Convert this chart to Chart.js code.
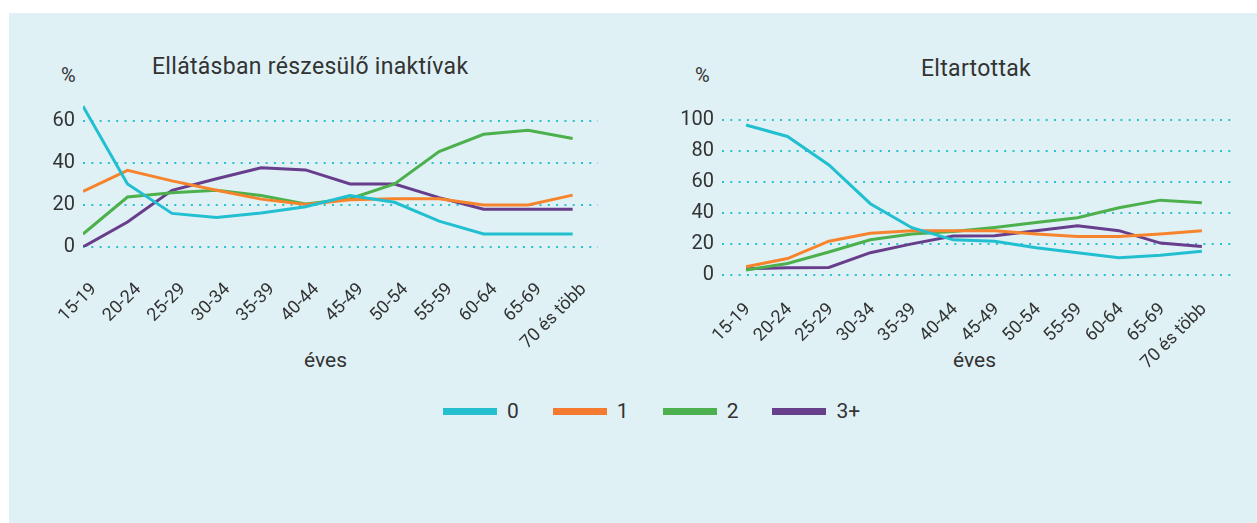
<!DOCTYPE html>
<html lang="hu">
<head>
<meta charset="UTF-8">
<title>Ellátásban részesülő inaktívak / Eltartottak</title>
<script src="https://cdn.jsdelivr.net/npm/chart.js@4.4.0/dist/chart.umd.min.js"></script>
<style>
    body {
        margin: 0;
        width: 1257px;
        height: 523px;
        background: #ffffff;
        font-family: Roboto, 'Noto Sans', sans-serif;
        color: #333;
        position: relative;
        overflow: hidden;
    }
    .panel {
        position: absolute;
        left: 9px;
        top: 13px;
        right: 0;
        bottom: 0;
        background: #dff1f5;
    }
    .txt {
        position: absolute;
        white-space: nowrap;
        color: #333;
    }
    .title { font-size: 23px; letter-spacing: 0.3px; }
    .unit { font-size: 20px; }
    .axis { font-size: 21px; }
    canvas { position: absolute; }
    .legend {
        position: absolute;
        top: 399px;
        left: 443px;
        display: flex;
        align-items: center;
        font-size: 21px;
    }
    .legend span.sw {
        display: inline-block;
        width: 54px;
        height: 7px;
        margin-right: 10px;
    }
    .legend span.lb {
        margin-right: 34px;
    }
</style>
</head>
<body>
<div class="panel"></div>

<div class="txt title" style="left:152px; top:53px;">Ellátásban részesülő inaktívak</div>
<div class="txt title" style="left:921px; top:55px;">Eltartottak</div>
<div class="txt unit" style="left:61px; top:63px;">%</div>
<div class="txt unit" style="left:695px; top:63px;">%</div>
<div class="txt axis" style="left:304px; top:348px;">éves</div>
<div class="txt axis" style="left:953px; top:348px;">éves</div>

<div class="legend">
    <span class="sw" style="background:#26bfcf"></span><span class="lb">0</span>
    <span class="sw" style="background:#f47a2f"></span><span class="lb">1</span>
    <span class="sw" style="background:#4cb04f"></span><span class="lb">2</span>
    <span class="sw" style="background:#683f8a"></span><span class="lb" style="margin-right:0">3+</span>
</div>

<canvas id="left" width="640" height="320" style="left:0; top:80px;"></canvas>
<canvas id="right" width="617" height="320" style="left:640px; top:80px;"></canvas>

<script>
    // korcsoportok
    const ageGroups = ['15-19', '20-24', '25-29', '30-34', '35-39', '40-44', '45-49',
                       '50-54', '55-59', '60-64', '65-69', '70 és több'];
    const seriesNames = ['0', '1', '2', '3+'];
    const seriesColors = ['#22bfd0', '#f7842c', '#4cb04c', '#673d8c'];

    // Ellátásban részesülő inaktívak (%)
    const inactive0 = [67, 30, 16, 14, 16.2, 19.2, 24.5, 21.3, 12.3, 6.2, 6.2, 6.2];
    const inactive1 = [26.5, 36.5, 31.5, 27, 22.8, 20.3, 22.5, 23, 23, 20, 20, 24.7];
    const inactive2 = [6.2, 23.8, 25.8, 27, 24.5, 20.5, 23, 30, 45.4, 53.7, 55.6, 51.7];
    const inactive3 = [0, 11.9, 27, 32.5, 37.7, 36.7, 30, 30, 23.5, 18, 18, 18];
    const inactiveTicks = [0, 20, 40, 60];

    // Eltartottak (%)
    const dependent0 = [96.8, 89.4, 71, 46, 30.5, 22.7, 21.8, 17.6, 14.4, 11.2, 12.7, 15.3];
    const dependent1 = [5.3, 10.6, 21.8, 26.9, 28.6, 28.6, 28.6, 26.5, 24.8, 24.8, 26.5, 28.6];
    const dependent2 = [3.2, 7.4, 14.8, 22.7, 26.5, 28, 30.7, 33.9, 37, 43.4, 48.3, 46.6];
    const dependent3 = [4, 4.7, 4.9, 14.4, 20.1, 25.2, 25.4, 28.6, 31.8, 28.6, 20.6, 18.4];
    const dependentTicks = [0, 20, 40, 60, 80, 100];

    const gridColor = '#2ec0d2';
    const font = { family: 'Roboto, "Noto Sans", sans-serif' };

    function makeDatasets(list) {
        return list.map((vals, i) => ({
            label: seriesNames[i],
            data: vals.map((v, k) => ({ x: k, y: v })),
            borderColor: seriesColors[i],
            backgroundColor: seriesColors[i],
            borderWidth: 3,
            pointRadius: 0,
            tension: 0,
            fill: false
        }));
    }

    function makeChart(id, datasets, opt) {
        return new Chart(document.getElementById(id), {
            type: 'line',
            data: { datasets: datasets },
            options: {
                responsive: false,
                animation: false,
                layout: { padding: opt.padding },
                plugins: { legend: { display: false }, tooltip: { enabled: false } },
                scales: {
                    x: {
                        type: 'linear',
                        min: opt.xMin,
                        max: opt.xMax,
                        grid: { display: false },
                        border: { display: false },
                        afterBuildTicks: s => {
                            s.ticks = ageGroups.map((_, k) => ({ value: k }));
                        },
                        afterFit: s => { s.height = opt.xHeight; },
                        ticks: {
                            autoSkip: false,
                            minRotation: 45,
                            maxRotation: 45,
                            padding: opt.xPad,
                            labelOffset: opt.xShift,
                            color: '#333',
                            font: { ...font, size: 18 },
                            callback: v => ageGroups[v]
                        }
                    },
                    y: {
                        min: 0,
                        max: opt.yMax,
                        afterBuildTicks: s => {
                            s.ticks = opt.yTicks.map(v => ({ value: v }));
                        },
                        afterFit: s => { s.width = opt.yWidth; },
                        border: { display: false, dash: [2, 6.3] },
                        grid: {
                            color: gridColor,
                            lineWidth: 2,
                            drawTicks: false
                        },
                        ticks: {
                            padding: 8,
                            color: '#333',
                            font: { ...font, size: 20 }
                        }
                    }
                }
            }
        });
    }

    makeChart('left', makeDatasets([inactive0, inactive1, inactive2, inactive3]), {
        padding: { left: 0, right: 42, top: 13, bottom: 0 },
        xMin: 0, xMax: 11.57, xHeight: 153, xPad: 24, xShift: 11,
        yMax: 70, yTicks: inactiveTicks, yWidth: 83
    });

    makeChart('right', makeDatasets([dependent0, dependent1, dependent2, dependent3]), {
        padding: { left: 0, right: 22, top: 40, bottom: 0 },
        xMin: -0.58, xMax: 11.8, xHeight: 125, xPad: 16, xShift: 2,
        yMax: 100, yTicks: dependentTicks, yWidth: 82
    });
</script>
</body>
</html>
